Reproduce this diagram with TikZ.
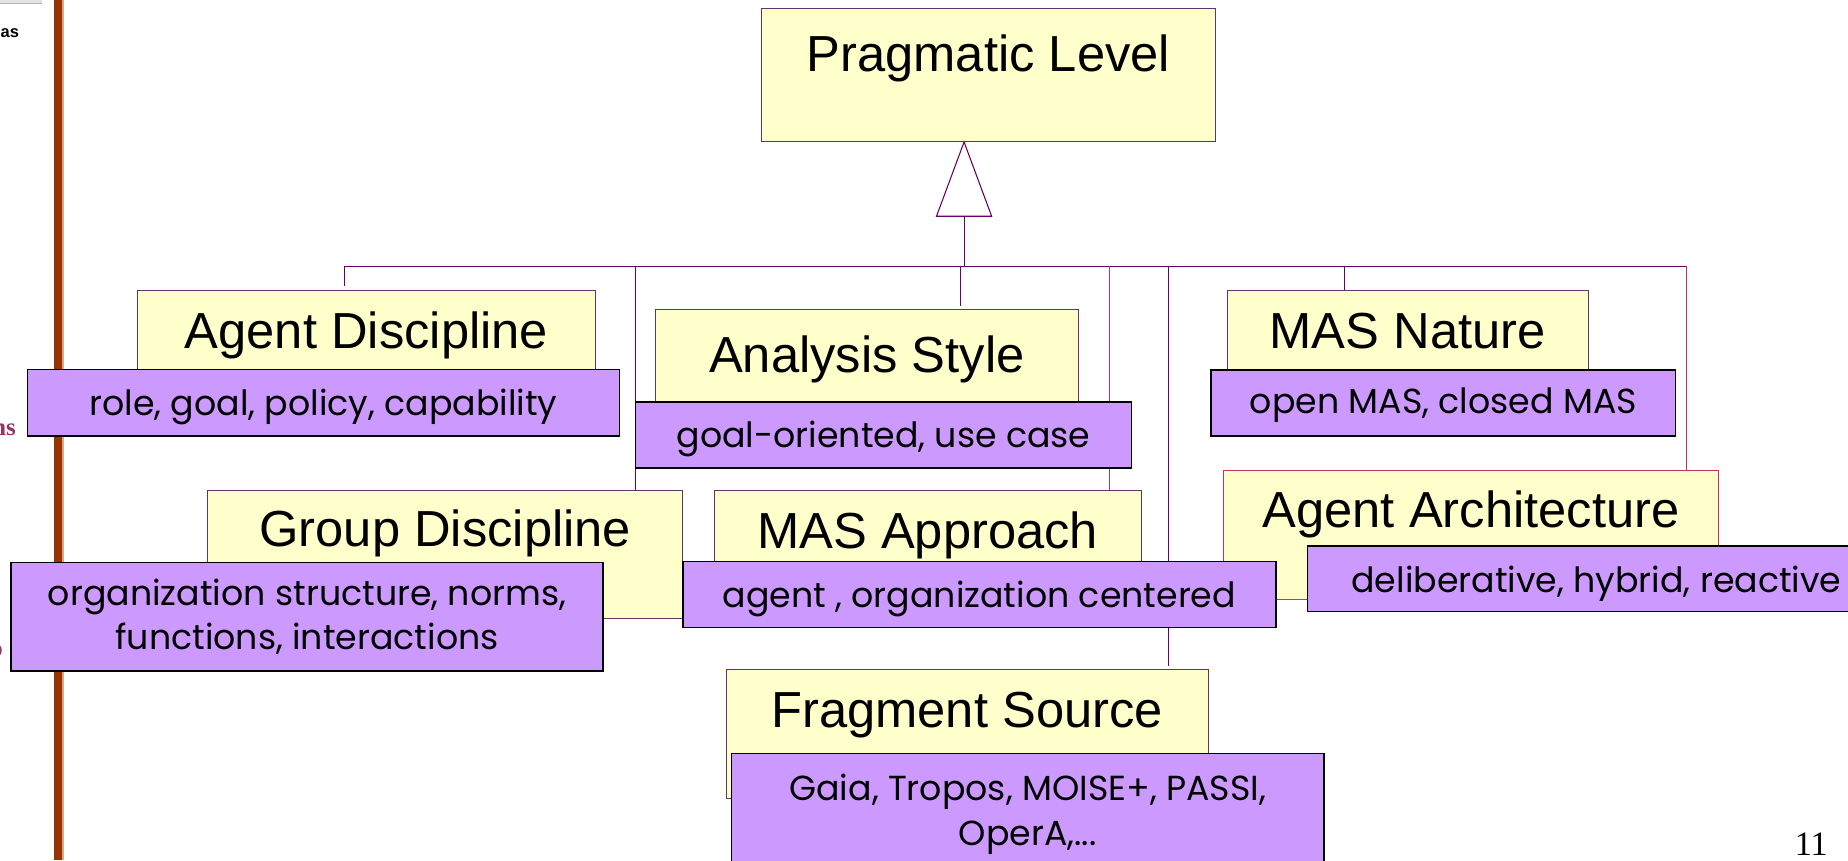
\documentclass[tikz,border=0pt]{standalone}
\usepackage{fontspec}
\usetikzlibrary{calc,backgrounds}
\newfontfamily\titlef{Liberation Sans}
\newfontfamily\commf{Poppins}
\newfontfamily\serff{Liberation Serif}
\definecolor{ylwfill}{HTML}{FFFFCC}
\definecolor{ylwline}{HTML}{663366}
\definecolor{purp}{HTML}{CC99FF}
\definecolor{lnpurple}{HTML}{660066}
\definecolor{lnred}{HTML}{C03366}
\definecolor{barbrown}{HTML}{993300}
\definecolor{barlight}{HTML}{D8A890}
\definecolor{fragmag}{HTML}{993366}
\begin{document}
\begin{tikzpicture}[x=1pt,y=-1pt,
  ybox/.style={draw=ylwline, fill=ylwfill, line width=0.9pt, inner sep=0pt, anchor=north west,
    font=\titlef\fontsize{43}{50}\selectfont},
  pbox/.style={draw=black, fill=purp, line width=1.4pt, inner sep=0pt, anchor=north west,
    font=\commf\fontsize{29.5}{38}\selectfont},
  conn/.style={draw=lnpurple, line width=0.9pt},
  connr/.style={draw=lnred, line width=0.9pt},
  frag/.style={anchor=base east, inner sep=0pt}
]
\useasboundingbox (0,0) rectangle (1568,730);
\clip (0,0) rectangle (1568,730);

% left slide decorations
\fill[gray!22] (0,0) rectangle (35.4,2.8);
\draw[gray!60, line width=0.6pt] (0,2.8) -- (35.4,2.8);
\fill[barbrown] (46,0) rectangle (53,730);
\fill[barlight] (53,0) rectangle (54.2,730);
\node[anchor=base west, inner sep=0pt, font=\titlef\bfseries\fontsize{14}{16}\selectfont] (fa) at (0.3,31.7) {as};
\node[frag, text=fragmag, font=\serff\bfseries\fontsize{21}{24}\selectfont] (fb) at (13.6,369.4) {ns};
\node[frag, text=fragmag, font=\serff\bfseries\fontsize{21}{24}\selectfont] (fc) at (2.5,557) {o};
\node[frag, font=\serff\fontsize{29}{32}\selectfont] (pg) at (1551,726) {11};

% yellow boxes
\node[ybox, minimum width=385.6pt, text height=53.2pt, text depth=59.6pt] (pl) at (645.4,6.8) {Pragmatic Level};
\node[ybox, minimum width=389pt, text height=49pt, text depth=51pt] (ad) at (116,246) {Agent Discipline};
\node[ybox, minimum width=358.9pt, text height=52.9pt, text depth=47pt] (as) at (555.6,262.5) {Analysis Style};
\node[ybox, minimum width=306pt, text height=49pt, text depth=51pt] (mn) at (1041,246) {MAS Nature};
\node[ybox, minimum width=402.8pt, text height=47.5pt, text depth=61.3pt] (gd) at (176,415.8) {Group Discipline};
\node[ybox, minimum width=362.6pt, text height=49.4pt, text depth=50pt] (ma) at (605.4,415.8) {MAS Approach};
\node[ybox, draw=lnred, minimum width=419.4pt, text height=48.4pt, text depth=60.6pt] (aa) at (1038,399) {Agent Architecture};
\node[ybox, minimum width=409.1pt, text height=48.6pt, text depth=60.8pt] (fs) at (615.6,568) {Fragment Source};

% purple boxes
\node[pbox, minimum width=502.5pt, text height=39.2pt, text depth=17pt] (adp) at (22.5,312.8) {role, goal, policy, capability};
\node[pbox, minimum width=420.9pt, text height=38.8pt, text depth=17.3pt] (asp) at (538.5,340.2) {goal-oriented, use case};
\node[pbox, minimum width=394pt, text height=37.5pt, text depth=18.5pt] (mnp) at (1027,313) {open MAS, closed MAS};
\node[pbox, minimum width=502.3pt, minimum height=92pt, align=center] (gdp) at (8.7,476.6) {organization structure, norms,\\functions, interactions};
\node[pbox, minimum width=503.1pt, text height=39pt, text depth=17pt] (map) at (578.7,475.7) {agent , organization centered};
\node[pbox, inner xsep=37.4pt, text height=39.6pt, text depth=16pt] (aap) at (1108.6,462.4) {deliberative, hybrid, reactive};
\node[pbox, minimum width=502.6pt, minimum height=103pt, align=center] (fsp) at (620,638.6) {Gaia, Tropos, MOISE+, PASSI,\\OperA,...};

% connectors
\begin{scope}[on background layer]
\coordinate (tip) at ($(pl.south west)+(172.6,0)$);
\coordinate (trib) at ($(tip)+(0,63)$);
\coordinate (bus) at ($(tip)+(0,106)$);
\coordinate (bL) at (292,226);
\coordinate (b2) at (539,226);
\coordinate (b3) at (815,226);
\coordinate (b4) at (941,226);
\coordinate (b5) at (991.4,226);
\coordinate (b6) at (1141,226);
\coordinate (bR) at (1431,226);
\draw[conn] (trib) -- (bus);
\draw[conn] (bL) -- (bR);
\draw[conn, shorten >=3pt] (bL) -- (bL |- ad.north);
\draw[conn] (b2) -- (b2 |- gd.north);
\draw[conn, shorten >=3pt] (b3) -- (b3 |- as.north);
\draw[connr] (b4) -- (b4 |- ma.north);
\draw[conn, shorten >=3pt] (b5) -- (b5 |- fs.north);
\draw[conn] (b6) -- (b6 |- mn.north);
\draw[connr] (bR) -- (bR |- aa.north);
\end{scope}
\draw[conn, fill=white, line join=miter] (tip) -- ($(tip)+(-23.4,63)$) -- ($(tip)+(23.4,63)$) -- cycle;
\end{tikzpicture}
\end{document}
